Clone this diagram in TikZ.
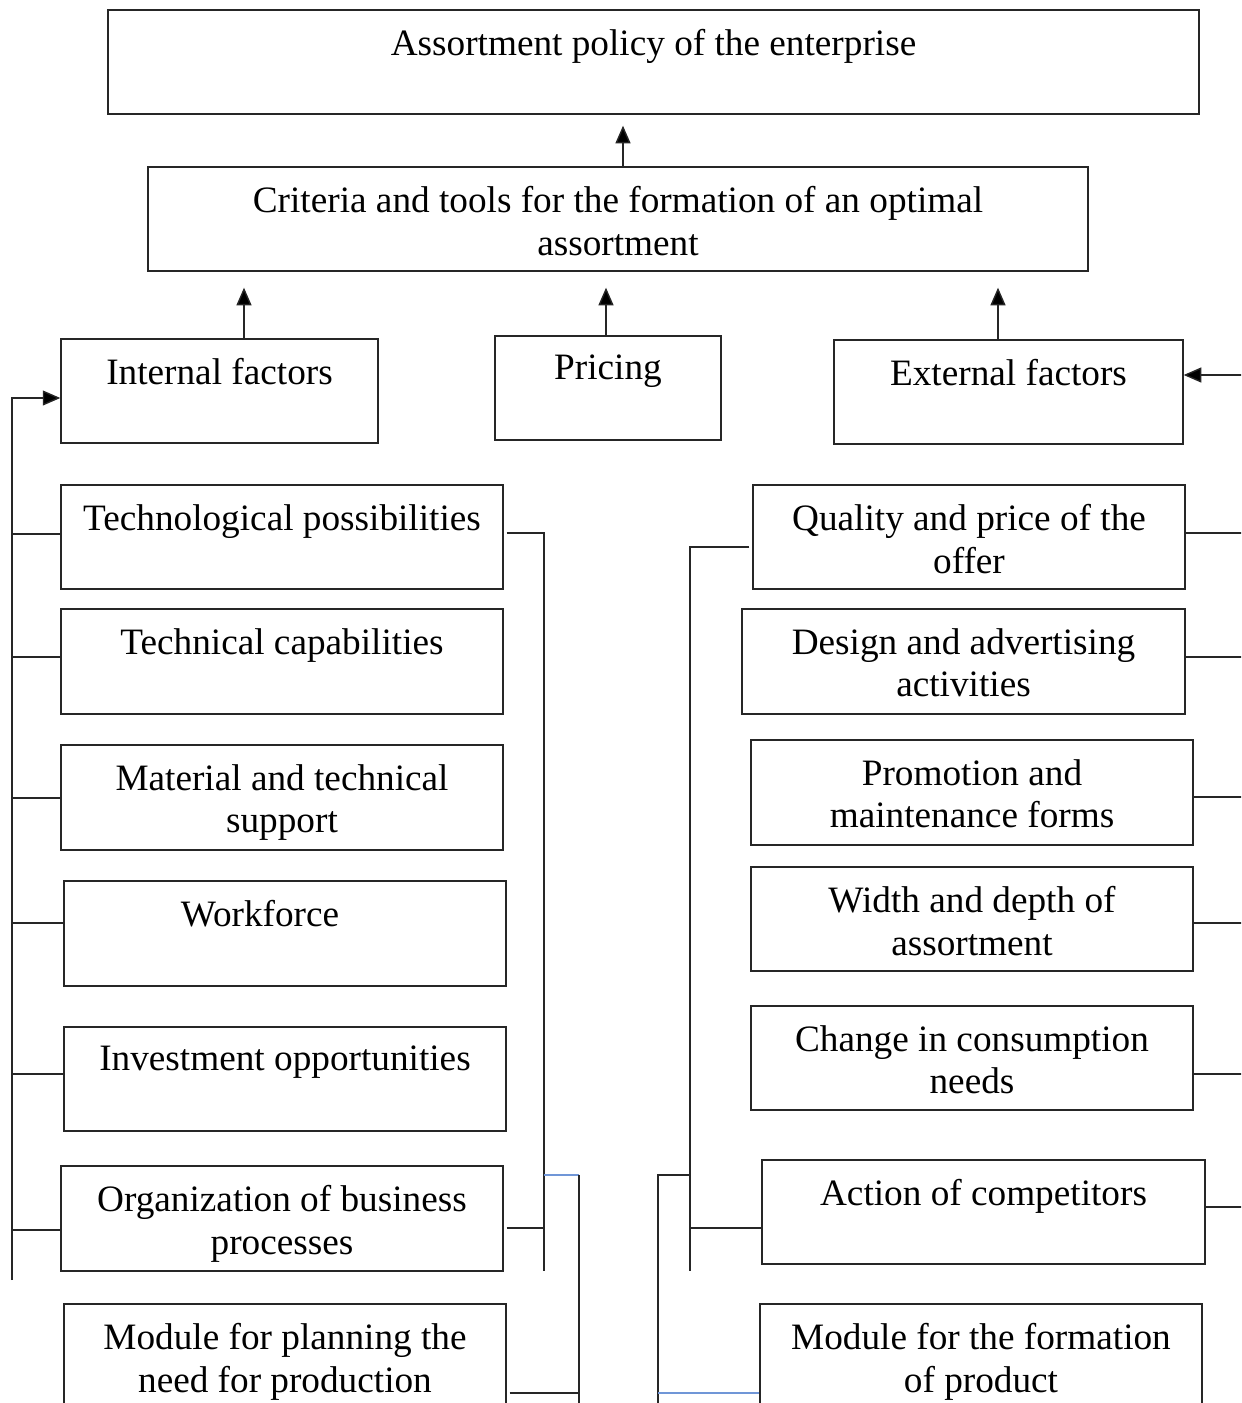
\documentclass[tikz,border=0pt]{standalone}
\usepackage{fontspec}
\setmainfont{Liberation Serif}
\usetikzlibrary{arrows.meta,calc}
\definecolor{bluel}{RGB}{112,150,215}
\begin{document}
\begin{tikzpicture}[x=0.02cm,y=-0.02cm,
  box/.style={draw=black!85, line width=0.8pt, inner sep=0pt, minimum height=2.08cm},
  lbl/.style={anchor=north, inner sep=0pt, align=center, yshift=-0.39cm,
              font=\fontsize{21.2}{24.4}\selectfont},
  wire/.style={draw=black!85, line width=0.8pt},
  bluewire/.style={draw=bluel, line width=0.8pt},
  arr/.style={wire, -{Triangle[length=10pt,width=8.5pt,fill=black]}}]

\clip (0,0) rectangle (1241,1403);

% top levels
\node[box, minimum width=21.82cm] (top) at (653.5,62) {};
\node[box, minimum width=18.8cm] (crit) at (618,219) {};
\node[lbl] (tTop) at (top.north) {Assortment policy of the enterprise};
\node[lbl] (tCrit) at (crit.north) {Criteria and tools for the formation of an optimal\\assortment};

% factor groups
\node[box, minimum width=6.34cm] (internal) at (219.5,391) {};
\node[box, minimum width=4.52cm] (pricing) at (608,388) {};
\node[box, minimum width=6.98cm] (external) at (1008.5,392) {};
\node[lbl] (tInternal) at (internal.north) {Internal factors};
\node[lbl] (tPricing) at (pricing.north) {Pricing};
\node[lbl] (tExternal) at (external.north) {External factors};

% internal factors column
\node[box, minimum width=8.84cm] (tech) at (282,537) {};
\node[box, minimum width=8.84cm, minimum height=2.1cm] (techcap) at (282,661.5) {};
\node[box, minimum width=8.84cm, minimum height=2.1cm] (mat) at (282,797.5) {};
\node[box, minimum width=8.84cm, minimum height=2.1cm] (work) at (285,933.5) {};
\node[box, minimum width=8.84cm] (inv) at (285,1079) {};
\node[box, minimum width=8.84cm, minimum height=2.1cm] (org) at (282,1218.5) {};
\node[box, minimum width=8.84cm, minimum height=2.52cm] (modplan) at (285,1367) {};
\node[lbl] (tTech) at (tech.north) {Technological possibilities};
\node[lbl] (tTechcap) at (techcap.north) {Technical capabilities};
\node[lbl] (tMat) at (mat.north) {Material and technical\\support};
\node[lbl, xshift=-0.5cm] (tWork) at (work.north) {Workforce};
\node[lbl] (tInv) at (inv.north) {Investment opportunities};
\node[lbl] (tOrg) at (org.north) {Organization of business\\processes};
\node[lbl] (tModplan) at (modplan.north) {Module for planning the\\need for production};

% external factors column
\node[box, minimum width=8.64cm] (quality) at (969,537) {};
\node[box, minimum width=8.86cm, minimum height=2.1cm] (design) at (963.5,661.5) {};
\node[box, minimum width=8.84cm, minimum height=2.1cm] (promo) at (972,792.5) {};
\node[box, minimum width=8.84cm] (width) at (972,919) {};
\node[box, minimum width=8.84cm] (change) at (972,1058) {};
\node[box, minimum width=8.86cm] (action) at (983.5,1212) {};
\node[box, minimum width=8.84cm, minimum height=2.52cm] (modform) at (981,1367) {};
\node[lbl] (tQuality) at (quality.north) {Quality and price of the\\offer};
\node[lbl] (tDesign) at (design.north) {Design and advertising\\activities};
\node[lbl] (tPromo) at (promo.north) {Promotion and\\maintenance forms};
\node[lbl] (tWidth) at (width.north) {Width and depth of\\assortment};
\node[lbl] (tChange) at (change.north) {Change in consumption\\needs};
\node[lbl] (tAction) at (action.north) {Action of competitors};
\node[lbl] (tModform) at (modform.north) {Module for the formation\\of product};

% upward arrows
\draw[arr, shorten >=0.22cm] (crit.north -| 623,0) -- (top.south -| 623,0);
\draw[arr, shorten >=0.32cm] (internal.north -| 244,0) -- (crit.south -| 244,0);
\draw[arr, shorten >=0.32cm] (pricing.north -| 606,0) -- (crit.south -| 606,0);
\draw[arr, shorten >=0.32cm] (external.north -| 998,0) -- (crit.south -| 998,0);

% feed into external factors from the right
\coordinate (redge) at (1245,375);
\draw[arr] (redge) -- (external.east |- redge);

% left bus feeding internal factors
\coordinate (lfoot) at (12,1280);
\draw[arr] (lfoot) -- (lfoot |- 0,398) -- (internal.west |- 0,398);
\draw[wire] (tech.west |- 0,534) -- (lfoot |- 0,534);
\draw[wire] (techcap.west |- 0,657) -- (lfoot |- 0,657);
\draw[wire] (mat.west |- 0,798) -- (lfoot |- 0,798);
\draw[wire] (work.west |- 0,923) -- (lfoot |- 0,923);
\draw[wire] (inv.west |- 0,1074) -- (lfoot |- 0,1074);
\draw[wire] (org.west |- 0,1230) -- (lfoot |- 0,1230);

% right side of the internal column
\coordinate (lr) at (544,1271);
\coordinate (lr2) at (579,1410);
\draw[wire, shorten <=0.06cm] (tech.east |- 0,533) -- (lr |- 0,533) -- (lr);
\draw[wire, shorten <=0.06cm] (org.east |- 0,1228) -- (lr |- 0,1228);
\draw[bluewire] (lr |- 0,1175) -- (lr2 |- 0,1175);
\draw[wire] (lr2 |- 0,1175) -- (lr2);
\draw[wire, shorten <=0.06cm] (modplan.east |- 0,1393) -- (lr2 |- 0,1393);

% left side of the external column
\coordinate (rl) at (690,1271);
\coordinate (rl2) at (658,1410);
\draw[wire, shorten <=0.06cm] (quality.west |- 0,547) -- (rl |- 0,547) -- (rl);
\draw[wire] (action.west |- 0,1228) -- (rl |- 0,1228);
\draw[wire] (rl |- 0,1175) -- (rl2 |- 0,1175) -- (rl2);
\draw[bluewire] (rl2 |- 0,1393) -- (modform.west |- 0,1393);

% branches leaving the external column to the right
\coordinate (rx) at (1245,0);
\draw[wire] (quality.east |- 0,533) -- (rx |- 0,533);
\draw[wire] (design.east |- 0,657) -- (rx |- 0,657);
\draw[wire] (promo.east |- 0,797) -- (rx |- 0,797);
\draw[wire] (width.east |- 0,923) -- (rx |- 0,923);
\draw[wire] (change.east |- 0,1074) -- (rx |- 0,1074);
\draw[wire] (action.east |- 0,1207) -- (rx |- 0,1207);
\end{tikzpicture}
\end{document}
